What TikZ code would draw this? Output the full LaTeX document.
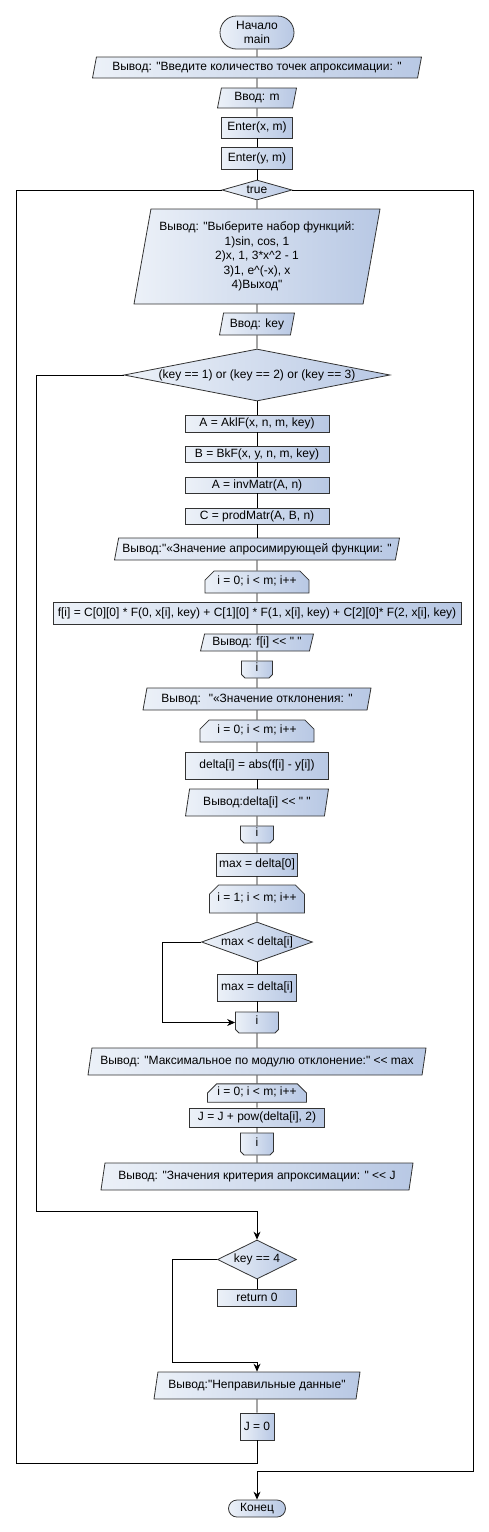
\documentclass[tikz,border=0pt]{standalone}
\usepackage{fontspec}
\setmainfont{Liberation Sans}[Ligatures=TeXOff]
\usetikzlibrary{arrows.meta,positioning,shapes.geometric,shapes.misc}
\definecolor{flowlight}{RGB}{236,241,248}
\definecolor{flowdark}{RGB}{184,200,228}

\begin{document}
\begin{tikzpicture}[
    x=1pt, y=-1pt,
    on grid, node distance=30pt,
    every node/.style={font=\fontsize{12}{14.5}\selectfont, inner sep=2pt, align=center},
    blockfill/.style={draw=black!80, line width=0.8pt, left color=flowlight, right color=flowdark},
    proc/.style={blockfill, rectangle, minimum height=16pt},
    io/.style={blockfill, trapezium, trapezium left angle=75, trapezium right angle=105, trapezium stretches body, minimum height=21pt},
    term/.style={blockfill, rounded rectangle},
    cond/.style={blockfill, diamond, inner sep=0pt},
    loopbeg/.style={blockfill, chamfered rectangle, chamfered rectangle corners={north west,north east}, chamfered rectangle sep=7pt, inner sep=0pt, text height=4.3pt, text depth=-4.3pt},
    loopfin/.style={blockfill, chamfered rectangle, chamfered rectangle corners={south west,south east}, chamfered rectangle sep=7pt, inner sep=0pt, text height=4.3pt, text depth=-4.3pt},
    link/.style={line width=0.8pt, black},
    flow/.style={link, -{Stealth[length=8pt, width=7pt]}}
]
\useasboundingbox (0,0) rectangle (488,1532);
\node[term, minimum width=78pt, minimum height=33pt] (start) at (257,32.5) {Начало\\main};
\node[io, below=35pt of start, minimum width=329pt] (askm) {Вывод: "Введите количество точек апроксимации: "};
\node[io, below=30.5pt of askm, minimum width=79pt, minimum height=20pt] (inm) {Ввод: m};
\node[proc, below=29.5pt of inm, minimum width=71pt, minimum height=21pt] (enterx) {Enter(x, m)};
\node[proc, below=30.5pt of enterx, minimum width=71pt, minimum height=22pt] (entery) {Enter(y, m)};
\node[cond, below=32pt of entery, minimum width=70pt, minimum height=20pt, aspect=3.5] (whiletrue) {true};
\node[io, below=66.5pt of whiletrue, minimum width=246pt, minimum height=95pt, trapezium left angle=77, trapezium right angle=103] (menu) {Вывод: "Выберите набор функций:\\1)sin, cos, 1\\2)x, 1, 3*x\textasciicircum 2 - 1\\3)1, e\textasciicircum(-x), x\\4)Выход"};
\node[io, below=67.5pt of menu, minimum width=75pt, minimum height=22pt] (inkey) {Ввод: key};
\node[cond, below=51pt of inkey, minimum width=266pt, minimum height=52pt, aspect=5.1] (keycheck) {(key == 1) or (key == 2) or (key == 3)};
\node[proc, below=48.5pt of keycheck, minimum width=144pt, minimum height=17pt] (aklf) {A = AklF(x, n, m, key)};
\node[proc, below=30.5pt of aklf, minimum width=144pt] (bkf) {B = BkF(x, y, n, m, key)};
\node[proc, below=31pt of bkf, minimum width=144pt] (inv) {A = invMatr(A, n)};
\node[proc, below=31pt of inv, minimum width=144pt] (prod) {C = prodMatr(A, B, n)};
\node[io, below=33pt of prod, minimum width=285pt, minimum height=22pt] (outapprox) {Вывод:"«Значение апросимирующей функции: "};
\node[loopbeg, below=33pt of outapprox, minimum width=104pt, minimum height=22pt] (forf) {i = 0; i < m; i++};
\node[proc, below=31pt of forf, minimum width=408pt, minimum height=22pt] (calcf) {f[i] = C[0][0] * F(0, x[i], key) + C[1][0] * F(1, x[i], key) + C[2][0]* F(2, x[i], key)};
\node[io, below=29.5pt of calcf, minimum width=113pt, minimum height=17pt] (outf) {Вывод: f[i] << " "};
\node[loopfin, below=27pt of outf, minimum width=31pt, minimum height=17pt] (endf) {i};
\node[io, below=29.5pt of endf, minimum width=228pt, minimum height=22pt] (outdev) {Вывод: \ "«Значение отклонения: "};
\node[loopbeg, below=32pt of outdev, minimum width=114pt, minimum height=22pt] (fordelta) {i = 0; i < m; i++};
\node[proc, below=34.5pt of fordelta, minimum width=143pt, minimum height=27pt] (calcdelta) {delta[i] = abs(f[i] - y[i])};
\node[io, below=37pt of calcdelta, minimum width=143pt, minimum height=27pt] (outdelta) {Вывод:delta[i] << " "};
\node[loopfin, below=32pt of outdelta, minimum width=33pt, minimum height=17pt] (enddelta) {i};
\node[proc, below=30pt of enddelta, minimum width=81pt, minimum height=23pt] (maxinit) {max = delta[0]};
\node[loopbeg, below=34.5pt of maxinit, minimum width=95pt, minimum height=28pt] (formax) {i = 1; i < m; i++};
\node[cond, below=43pt of formax, minimum width=111pt, minimum height=40pt, aspect=2.8] (cmpmax) {max < delta[i]};
\node[proc, below=45.5pt of cmpmax, minimum width=79pt, minimum height=27pt] (setmax) {max = delta[i]};
\node[loopfin, below=35pt of setmax, minimum width=43pt, minimum height=21pt] (endmax) {i};
\node[io, below=39pt of endmax, minimum width=338pt, minimum height=27pt] (outmax) {Вывод: "Максимальное по модулю отклонение:" << max};
\node[loopbeg, below=31.5pt of outmax, minimum width=99pt, minimum height=16pt] (forJ) {i = 0; i < m; i++};
\node[proc, below=24.5pt of forJ, minimum width=135pt, minimum height=19pt] (calcJ) {J = J + pow(delta[i], 2)};
\node[loopfin, below=26.5pt of calcJ, minimum width=33pt, minimum height=22pt] (endJ) {i};
\node[io, below=32.5pt of endJ, minimum width=312pt, minimum height=27pt] (outJ) {Вывод: "Значения критерия апроксимации: " << J};
\node[cond, below=83pt of outJ, minimum width=79pt, minimum height=39pt, aspect=2] (keyexit) {key == 4};
\node[proc, below=38pt of keyexit, minimum width=79pt, minimum height=17pt] (ret) {return 0};
\node[io, below=88pt of ret, minimum width=206pt, minimum height=27pt] (outerr) {Вывод:"Неправильные данные"};
\node[proc, below=41pt of outerr, minimum width=34pt, minimum height=27pt] (jzero) {J = 0};
\node[term, below=82pt of jzero, minimum width=61pt, minimum height=17pt] (finish) {Конец};
% main chain
\foreach \a/\b in {start/askm, askm/inm, inm/enterx, enterx/entery, entery/whiletrue,
    whiletrue/menu, menu/inkey, inkey/keycheck, keycheck/aklf, aklf/bkf, bkf/inv,
    inv/prod, prod/outapprox, outapprox/forf, forf/calcf, calcf/outf, outf/endf,
    endf/outdev, outdev/fordelta, fordelta/calcdelta, calcdelta/outdelta,
    outdelta/enddelta, enddelta/maxinit, maxinit/formax, formax/cmpmax,
    cmpmax/setmax, setmax/endmax, endmax/outmax, outmax/forJ, forJ/calcJ,
    calcJ/endJ, endJ/outJ, keyexit/ret, outerr/jzero}
    \draw[link] (\a) -- (\b);
% bends
\coordinate (keybypass) at (36,1211);
\coordinate (exitbypass) at (172,1362);
\coordinate (maxbypass) at (162,0);
\coordinate (outerleft) at (16,1463);
\coordinate (outerright) at (473,1471);
\draw[flow] (keycheck.west) -| (keybypass) -- (keybypass -| keyexit.north) -- (keyexit.north);
\draw[flow] (keyexit.west) -| (exitbypass) -- (exitbypass -| outerr.north) -- (outerr.north);
\draw[flow] (cmpmax.west) -| (maxbypass |- endmax.west) -- (endmax.west);
\draw[link] (jzero.south) |- (outerleft) |- (whiletrue.west);
\draw[flow] (whiletrue.east) -| (outerright) -- (outerright -| finish.north) -- (finish.north);
\end{tikzpicture}
\end{document}
